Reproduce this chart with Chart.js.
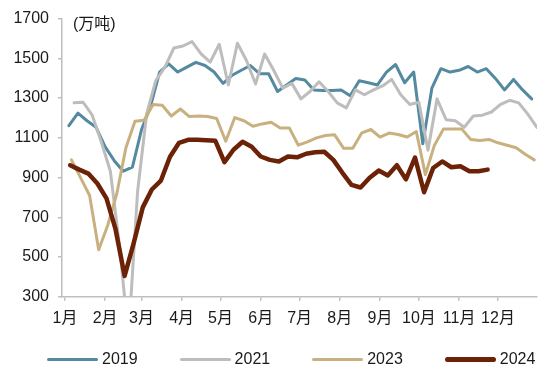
<!DOCTYPE html>
<html>
<head>
<meta charset="utf-8">
<script src="https://cdn.jsdelivr.net/npm/chart.js@4/dist/chart.umd.min.js"></script>
<style>
  html, body { margin: 0; padding: 0; background: #fff; }
  .wrap { position: relative; width: 550px; height: 376px; }
  .legend {
    position: absolute; left: 47px; top: 348px; height: 22px;
    display: flex; align-items: center; gap: 42px;
    font-family: "Liberation Sans", Arial, sans-serif; font-size: 16px; color: #1a1a1a;
  }
  .legend-item { display: flex; align-items: center; }
  .legend-line { width: 51px; margin-right: 4px; border-radius: 3px; }
</style>
</head>
<body>
<div class="wrap">
  <canvas id="chart" width="550" height="376"></canvas>
  <div class="legend" id="legend"></div>
</div>
<script>
// Month ticks: day-of-year where each month starts
const monthLabels = ['1月', '2月', '3月', '4月', '5月', '6月', '7月', '8月', '9月', '10月', '11月', '12月'];
const monthStarts = [0, 31, 59, 90, 120, 151, 181, 212, 243, 273, 304, 334];

const years = ['2019', '2021', '2023', '2024'];
// day-of-year of first weekly reading (Friday) per year
const firstDays = [3, 7, 5, 4];

// weekly values, 万吨
const values2019 = [1161, 1224, 1186, 1153, 1055, 985, 932, 952, 1140, 1259,
  1431, 1472, 1431, 1456, 1480, 1464, 1431, 1374, 1415, 1440,
  1464, 1423, 1423, 1333, 1366, 1399, 1391, 1341, 1338, 1338,
  1341, 1312, 1387, 1377, 1366, 1431, 1469, 1377, 1431, 1070,
  1350, 1448, 1431, 1440, 1459, 1431, 1448, 1399, 1341, 1394,
  1341, 1296];
const values2021 = [1276, 1279, 1214, 1080, 932, 560, 100, 830, 1220, 1388,
  1455, 1552, 1562, 1584, 1522, 1481, 1571, 1366, 1576, 1489,
  1371, 1522, 1440, 1350, 1374, 1296, 1333, 1382, 1333, 1276,
  1251, 1341, 1317, 1341, 1361, 1394, 1317, 1268, 1279, 1038,
  1296, 1191, 1186, 1153, 1210, 1214, 1230, 1268, 1289, 1276,
  1219, 1153];
const values2023 = [989, 900, 810, 537, 660, 820, 1050, 1183, 1188, 1268,
  1264, 1210, 1245, 1207, 1210, 1207, 1197, 1083, 1202, 1186,
  1158, 1170, 1178, 1149, 1150, 1063, 1080, 1100, 1112, 1115,
  1047, 1047, 1125, 1142, 1104, 1124, 1117, 1104, 1132, 915,
  1063, 1145, 1145, 1145, 1092, 1087, 1092, 1075, 1063, 1050,
  1017, 989];
const values2024 = [962, 940, 920, 870, 795, 640, 405, 570, 750, 840,
  885, 1005, 1075, 1090, 1090, 1088, 1085, 978, 1040, 1080,
  1055, 1006, 989, 981, 1006, 1002, 1020, 1027, 1030, 989,
  924, 863, 850, 899, 935, 911, 962, 891, 1001, 826,
  948, 981, 952, 957, 932, 932, 940];

const yTicks = [300, 500, 700, 900, 1100, 1300, 1500, 1700];

const seriesValues = [values2019, values2021, values2023, values2024];
const colors = ['#548aa0', '#bdbdbd', '#c9b07f', '#6b2206'];
const widths = [3, 3, 3, 4.5];

const fontFamily = '"Liberation Sans", Arial, "Noto Sans CJK SC", sans-serif';
Chart.defaults.font.family = fontFamily;
Chart.defaults.font.size = 16;
Chart.defaults.color = '#1a1a1a';

// turn weekly values into points on a day-of-year axis
function toPoints(values, firstDay) {
  return values.map((v, i) => ({ x: firstDay + i * 7, y: v }));
}

const datasets = years.map((year, k) => ({
  label: year,
  data: toPoints(seriesValues[k], firstDays[k]),
  borderColor: colors[k],
  borderWidth: widths[k],
  pointRadius: 0,
  tension: 0,
  borderJoinStyle: 'round',
  borderCapStyle: 'round',
  clip: 0,
  order: years.length - k
}));

// unit label in the top-left corner of the plot
const unitLabel = {
  id: 'unitLabel',
  afterDraw(chart) {
    const ctx = chart.ctx;
    ctx.save();
    ctx.font = '16px ' + fontFamily;
    ctx.fillStyle = '#1a1a1a';
    ctx.textBaseline = 'middle';
    ctx.fillText('(万吨)', 73, 25);
    ctx.restore();
  }
};

new Chart(document.getElementById('chart'), {
  type: 'line',
  data: { datasets },
  options: {
    responsive: false,
    animation: false,
    devicePixelRatio: 1,
    layout: { padding: { left: 4, right: 13, top: 17, bottom: 40 } },
    plugins: { legend: { display: false }, tooltip: { enabled: false } },
    scales: {
      x: {
        type: 'linear',
        min: -2.3,
        max: 364.1,
        afterBuildTicks(scale) {
          scale.ticks = monthStarts.map(v => ({ value: v }));
        },
        ticks: {
          autoSkip: false,
          maxRotation: 0,
          padding: 8,
          callback: (v, i) => monthLabels[i]
        },
        grid: { drawOnChartArea: false, drawTicks: true, tickLength: 4, color: '#bfbfbf', lineWidth: 1.5 },
        border: { display: true, color: '#bfbfbf', width: 1.5 }
      },
      y: {
        min: 300,
        max: 1700,
        afterBuildTicks(scale) {
          scale.ticks = yTicks.map(v => ({ value: v }));
        },
        afterFit(scale) {
          scale.width = 58;
        },
        ticks: { padding: 9, callback: v => String(v) },
        grid: { drawOnChartArea: false, drawTicks: true, tickLength: 4, color: '#bfbfbf', lineWidth: 1.5 },
        border: { display: true, color: '#bfbfbf', width: 1.5 }
      }
    }
  },
  plugins: [unitLabel]
});

// legend below the chart
function renderLegend() {
  const legend = document.getElementById('legend');
  years.forEach((year, k) => {
    const item = document.createElement('div');
    item.className = 'legend-item';
    item.innerHTML = `
      <span class="legend-line" style="background:${colors[k]};height:${k === 3 ? 5 : 3}px"></span>
      <span>${year}</span>
    `;
    legend.appendChild(item);
  });
}
renderLegend();
</script>
</body>
</html>
